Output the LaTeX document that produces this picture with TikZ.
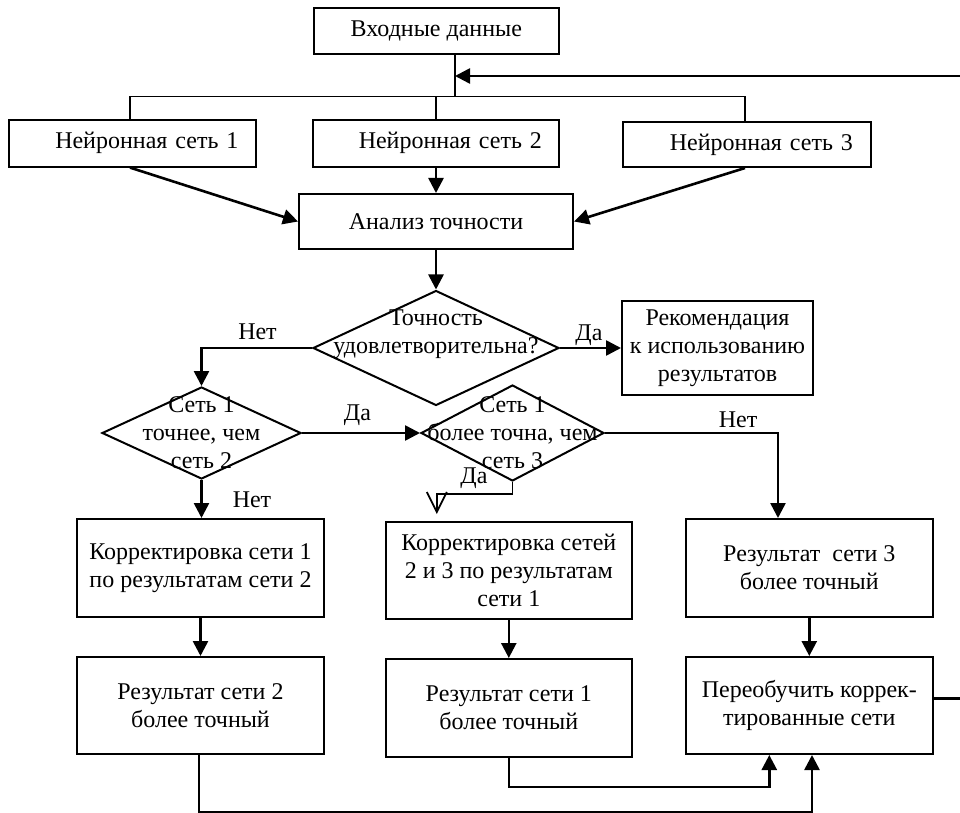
\documentclass[tikz,border=0pt]{standalone}
\usepackage{fontspec}
\setmainfont{Liberation Serif}
\usetikzlibrary{arrows.meta,shapes.geometric}
\begin{document}
\begin{tikzpicture}[x=0.5pt,y=-0.5pt,
  every node/.style={font=\fontsize{12pt}{14pt}\selectfont},
  box/.style={draw, line width=1pt, inner sep=0pt, align=center, minimum width=123.5pt, minimum height=49pt},
  nsbox/.style={box, minimum height=23.3pt, text width=106pt, align=right},
  dia/.style={draw, diamond, line width=1pt, inner sep=0pt},
  txt/.style={align=center, inner sep=0pt},
  lbl/.style={inner sep=0pt},
  thinline/.style={line width=0.75pt},
  arr/.style={line width=1.3pt, -{Triangle[length=7.5pt,width=7.5pt]}},
  oarr/.style={line width=0.9pt, -{Straight Barb[length=10pt,width=10pt]}},
  ]
\useasboundingbox (0,0) rectangle (960,813);

% boxes
\node[box, minimum width=122.75pt, minimum height=23pt] (in) at (436.3,31.3) {Входные данные};
\node[nsbox] (ns1) at (132.5,143.3) {Нейронная сеть 1};
\node[nsbox, minimum width=122.75pt] (ns2) at (436,143.3) {Нейронная сеть 2};
\node[nsbox, minimum width=124pt, minimum height=22.5pt] (ns3) at (747,144.5) {Нейронная сеть 3};
\node[box, minimum width=137pt, minimum height=27.5pt] (an) at (436,221.5) {Анализ точности};
\node[dia, minimum width=123pt, minimum height=57.5pt] (d1) at (436,348) {};
\node[box, minimum width=95.5pt, minimum height=47pt] (rec) at (717.5,348) {Рекомендация\\к использованию\\результатов};
\node[dia, minimum width=99.5pt, minimum height=46pt] (d2) at (201.5,433) {};
\node[dia, minimum width=91.5pt, minimum height=48pt] (d3) at (512.5,433) {};
\node[box] (k1) at (200.5,568) {Корректировка сети 1\\по результатам сети 2};
\node[box, minimum width=123.25pt, minimum height=48.5pt] (k2) at (508.8,570.5) {Корректировка сетей\\2 и 3 по результатам\\сети 1};
\node[box, minimum width=123.3pt] (r3) at (809.3,568) {Результат\ \ сети 3\\более точный};
\node[box, minimum height=48.5pt] (r2) at (200.5,705.5) {Результат сети 2\\более точный};
\node[box, minimum width=123.25pt] (r1) at (508.8,708) {Результат сети 1\\более точный};
\node[box, minimum width=123.3pt, minimum height=48.5pt] (p) at (809.3,705.5) {Переобучить коррек-\\тированные сети};

% diamond texts
\node[txt] (d1t) at ([yshift=7pt]d1.center) {Точность\\удовлетворительна?};
\node[txt] (d2t) at (d2.center) {Сеть 1\\точнее, чем\\сеть 2};
\node[txt] (d3t) at (d3.center) {Сеть 1\\более точна, чем\\сеть 3};

% labels
\node[lbl] (l1) at (257.5,332) {Нет};
\node[lbl] (l2) at (589,335) {Да};
\node[lbl] (l3) at (357.5,415) {Да};
\node[lbl] (l4) at (738,420) {Нет};
\node[lbl] (l5) at (474,478) {Да};
\node[lbl] (l6) at (252,500) {Нет};

% top bus
\coordinate (fb) at (455,76);
\coordinate (bj) at (455,96.7);
\coordinate (b1) at (130,96.7);
\coordinate (b3) at (745,96.7);
\draw[thinline] (bj |- in.south) -- (bj);
\draw[thinline] (b1 |- ns1.north) -- (b1) -- (b3) -- (b3 |- ns3.north);
\draw[thinline] (ns2.north) -- (ns2.north |- bj);

% feedback loop
\draw[arr] ([yshift=3.5pt]p.east) -- ++(31,0) |- (fb);

% arrows
\draw[arr] (ns1.south -| b1) -- (an.west);
\draw[arr] (ns2.south) -- (an.north);
\draw[arr] (ns3.south -| b3) -- (an.east);
\draw[arr] (an.south) -- (d1.north);
\draw[arr] (d1.east) -- (rec.west);
\draw[arr] (d1.west) -| (d2.north);
\draw[arr] (d2.east) -- (d3.west);
\draw[arr] (d3.east) -| ([xshift=-15.65pt]r3.north);
\draw[oarr, shorten >=3.5pt] (d3.south) -- ++(0,11.7) -| ([xshift=-36pt]k2.north);
\draw[arr] (d2.south) -- (d2.south |- k1.north);
\draw[arr] (k1.south) -- (r2.north);
\draw[arr] (k2.south) -- (r1.north);
\draw[arr] (r3.south) -- (p.north);
\draw[arr] (r1.south) -- ++(0,29) -| ([xshift=-20pt]p.south);
\draw[arr] ([xshift=-0.75pt]r2.south) -- ++(0,57) -| ([xshift=1.35pt]p.south);
\end{tikzpicture}
\end{document}
